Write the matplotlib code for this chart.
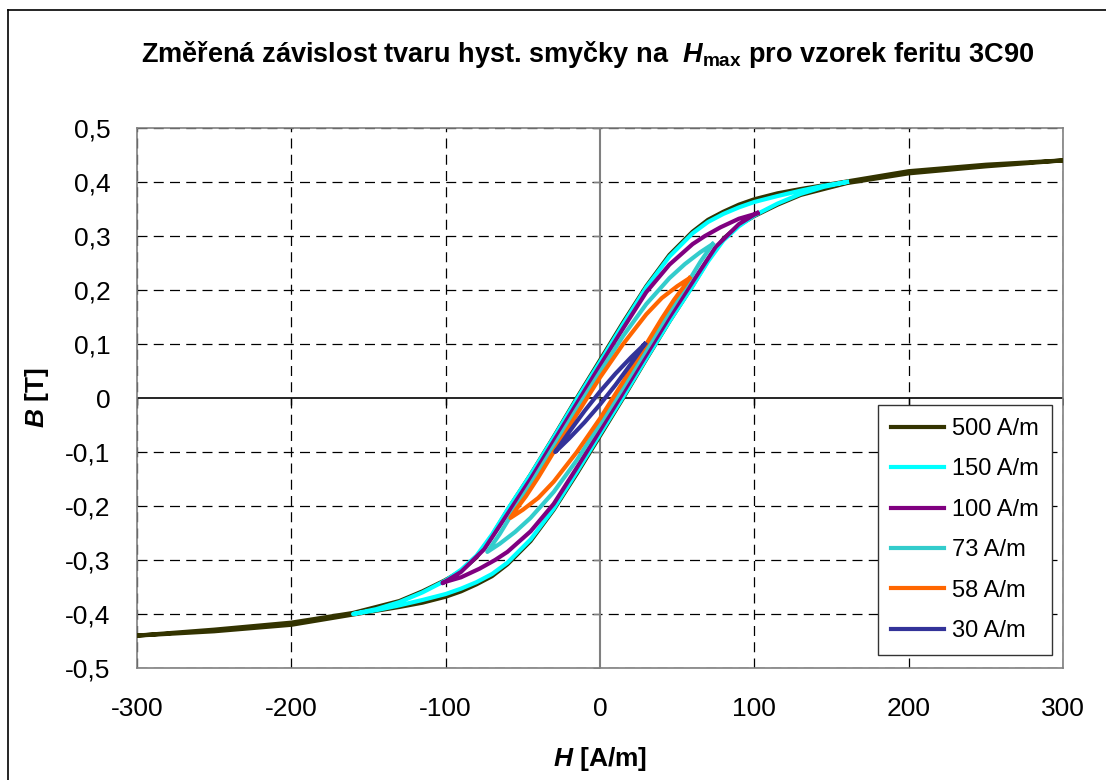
import matplotlib
matplotlib.use("Agg")
import matplotlib.pyplot as plt
from matplotlib.lines import Line2D

plt.rcParams['font.family'] = ['Liberation Sans', 'DejaVu Sans']
plt.rcParams['axes.unicode_minus'] = False
plt.rcParams['mathtext.fontset'] = 'custom'
plt.rcParams['mathtext.rm'] = 'Liberation Sans'
plt.rcParams['mathtext.it'] = 'Liberation Sans:italic'
plt.rcParams['mathtext.bf'] = 'Liberation Sans:bold'
plt.rcParams['mathtext.bfit'] = 'Liberation Sans:italic:bold'

# --- data read off the measured loops (H in A/m, B in T) ---
# each loop: descending (upper) branch and ascending (lower) branch
labels = ["500 A/m", "150 A/m", "100 A/m", "73 A/m", "58 A/m", "30 A/m"]
colors = ["#333300", "#00FFFF", "#800080", "#33CCCC", "#FF6600", "#333399"]

h500_up = [300, 250, 200, 160, 130, 115, 100, 90, 80, 70, 60, 45, 30, 15, 0, -15, -30, -45, -60, -70, -80, -90, -100, -115, -130, -160, -200, -250, -300]
b500_up = [0.440, 0.432, 0.420, 0.401, 0.387, 0.379, 0.368, 0.358, 0.345, 0.330, 0.308, 0.265, 0.207, 0.140, 0.070, 0.000, -0.072, -0.142, -0.208, -0.255, -0.295, -0.320, -0.337, -0.358, -0.376, -0.398, -0.416, -0.429, -0.440]
h500_lo = [-300, -250, -200, -160, -130, -115, -100, -90, -80, -70, -60, -45, -30, -15, 0, 15, 30, 45, 60, 70, 80, 90, 100, 115, 130, 160, 200, 250, 300]
b500_lo = [-0.440, -0.432, -0.420, -0.401, -0.387, -0.379, -0.368, -0.358, -0.345, -0.330, -0.308, -0.265, -0.207, -0.140, -0.070, 0.000, 0.072, 0.142, 0.208, 0.255, 0.295, 0.320, 0.337, 0.358, 0.376, 0.398, 0.416, 0.429, 0.440]

h150_up = [160, 145, 130, 115, 100, 90, 80, 70, 60, 45, 30, 15, 0, -15, -30, -45, -60, -70, -80, -90, -100, -115, -130, -145, -160]
b150_up = [0.400, 0.393, 0.384, 0.374, 0.363, 0.353, 0.341, 0.326, 0.305, 0.262, 0.205, 0.137, 0.067, -0.002, -0.073, -0.142, -0.207, -0.253, -0.292, -0.318, -0.338, -0.360, -0.378, -0.391, -0.400]
h150_lo = [-160, -145, -130, -115, -100, -90, -80, -70, -60, -45, -30, -15, 0, 15, 30, 45, 60, 70, 80, 90, 100, 115, 130, 145, 160]
b150_lo = [-0.400, -0.393, -0.384, -0.374, -0.363, -0.353, -0.341, -0.326, -0.305, -0.262, -0.205, -0.137, -0.067, 0.002, 0.073, 0.142, 0.207, 0.253, 0.292, 0.318, 0.338, 0.360, 0.378, 0.391, 0.400]

h100_up = [102, 90, 78, 68, 60, 45, 30, 15, 0, -15, -30, -45, -60, -75, -90, -102]
b100_up = [0.342, 0.332, 0.316, 0.300, 0.285, 0.247, 0.196, 0.129, 0.060, -0.010, -0.080, -0.150, -0.215, -0.280, -0.322, -0.343]
h100_lo = [-102, -90, -78, -68, -60, -45, -30, -15, 0, 15, 30, 45, 60, 75, 90, 102]
b100_lo = [-0.342, -0.332, -0.316, -0.300, -0.285, -0.247, -0.196, -0.129, -0.060, 0.010, 0.080, 0.150, 0.215, 0.280, 0.322, 0.343]

h73_up = [73, 65, 55, 45, 30, 15, 0, -15, -30, -45, -55, -65, -73]
b73_up = [0.285, 0.270, 0.248, 0.222, 0.174, 0.115, 0.048, -0.020, -0.090, -0.160, -0.205, -0.252, -0.285]
h73_lo = [-73, -65, -55, -45, -30, -15, 0, 15, 30, 45, 55, 65, 73]
b73_lo = [-0.285, -0.270, -0.248, -0.222, -0.174, -0.115, -0.048, 0.020, 0.090, 0.160, 0.205, 0.252, 0.285]

h58_up = [58, 50, 40, 30, 15, 0, -15, -30, -40, -48, -54, -58]
b58_up = [0.222, 0.207, 0.185, 0.155, 0.100, 0.038, -0.030, -0.100, -0.147, -0.182, -0.205, -0.222]
h58_lo = [-58, -50, -40, -30, -15, 0, 15, 30, 40, 48, 54, 58]
b58_lo = [-0.222, -0.207, -0.185, -0.155, -0.100, -0.038, 0.030, 0.100, 0.147, 0.182, 0.205, 0.222]

h30_up = [29, 20, 10, 0, -10, -20, -29]
b30_up = [0.100, 0.075, 0.045, 0.012, -0.024, -0.063, -0.100]
h30_lo = [-29, -20, -10, 0, 10, 20, 29]
b30_lo = [-0.100, -0.075, -0.045, -0.012, 0.024, 0.063, 0.100]

loops = [
    (h500_up + h500_lo, b500_up + b500_lo),
    (h150_up + h150_lo, b150_up + b150_lo),
    (h100_up + h100_lo, b100_up + b100_lo),
    (h73_up + h73_lo, b73_up + b73_lo),
    (h58_up + h58_lo, b58_up + b58_lo),
    (h30_up + h30_lo, b30_up + b30_lo),
]

h_ticks = [-300, -200, -100, 0, 100, 200, 300]
b_ticks = [0.5, 0.4, 0.3, 0.2, 0.1, 0, -0.1, -0.2, -0.3, -0.4, -0.5]
b_tick_labels = ["0,5", "0,4", "0,3", "0,2", "0,1", "0", "-0,1", "-0,2", "-0,3", "-0,4", "-0,5"]

fig = plt.figure(figsize=(11.06, 7.8), dpi=100)
ax = fig.add_axes([137 / 1106, 1 - 668 / 780, 926 / 1106, 540 / 780])

# outer chart border
fig.add_artist(Line2D([8 / 1106, 8 / 1106], [0, 1 - 10 / 780], transform=fig.transFigure, color="black", lw=1.2))
fig.add_artist(Line2D([8 / 1106, 1], [1 - 10 / 780, 1 - 10 / 780], transform=fig.transFigure, color="black", lw=1.2))

# grid
for b in b_ticks:
    if b != 0:
        ax.axhline(b, color="black", lw=0.9, ls=(0, (8, 5)), zorder=1)
for h in h_ticks:
    if h != 0:
        ax.axvline(h, color="black", lw=0.9, ls=(0, (8, 5)), zorder=1)
ax.axvline(0, color="#808080", lw=1.5, zorder=1)
ax.axhline(0, color="black", lw=1.2, zorder=1)
# tick marks on zero axes
ax.plot(h_ticks, [0] * len(h_ticks), ls="none", marker=3, ms=5, mew=1, color="black", zorder=1)
ax.plot([0] * len(b_ticks), b_ticks, ls="none", marker=0, ms=5, mew=1, color="#808080", zorder=1)

for (hh, bb), c, lab in zip(loops, colors, labels):
    ax.plot(hh, bb, color=c, lw=3.0, label=lab, zorder=3, solid_joinstyle="round")

ax.set_xlim(-300, 300)
ax.set_ylim(-0.5, 0.5)
ax.set_xticks(h_ticks)
ax.set_yticks(b_ticks)
ax.set_yticklabels(b_tick_labels)
ax.tick_params(length=0, labelsize=19, pad=21)
ax.tick_params(axis="y", pad=19)
for s in ax.spines.values():
    s.set_color("#808080")
    s.set_linewidth(1.2)

ax.set_xlabel(r"$\mathbfit{H}$ [A/m]", fontsize=19, fontweight="bold", labelpad=17)
ax.set_ylabel(r"$\mathbfit{B}$ [T]", fontsize=19, fontweight="bold", labelpad=10)

fig.text(588 / 1106, 1 - 55 / 780,
         r"Změřená závislost tvaru hyst. smyčky na  $\mathbfit{H}_{\mathbf{max}}$ pro vzorek feritu 3C90",
         ha="center", va="center", fontsize=19.5, fontweight="bold")

leg = ax.legend(loc="upper right", bbox_to_anchor=((1052 - 137) / 926, (668 - 405) / 540),
                borderaxespad=0, fontsize=17, handlelength=2.25, handletextpad=0.35,
                labelspacing=0.78, fancybox=False, framealpha=1, edgecolor="#333333",
                borderpad=0.55)
leg.get_frame().set_linewidth(1.0)

fig.savefig("out.png", dpi=100)
